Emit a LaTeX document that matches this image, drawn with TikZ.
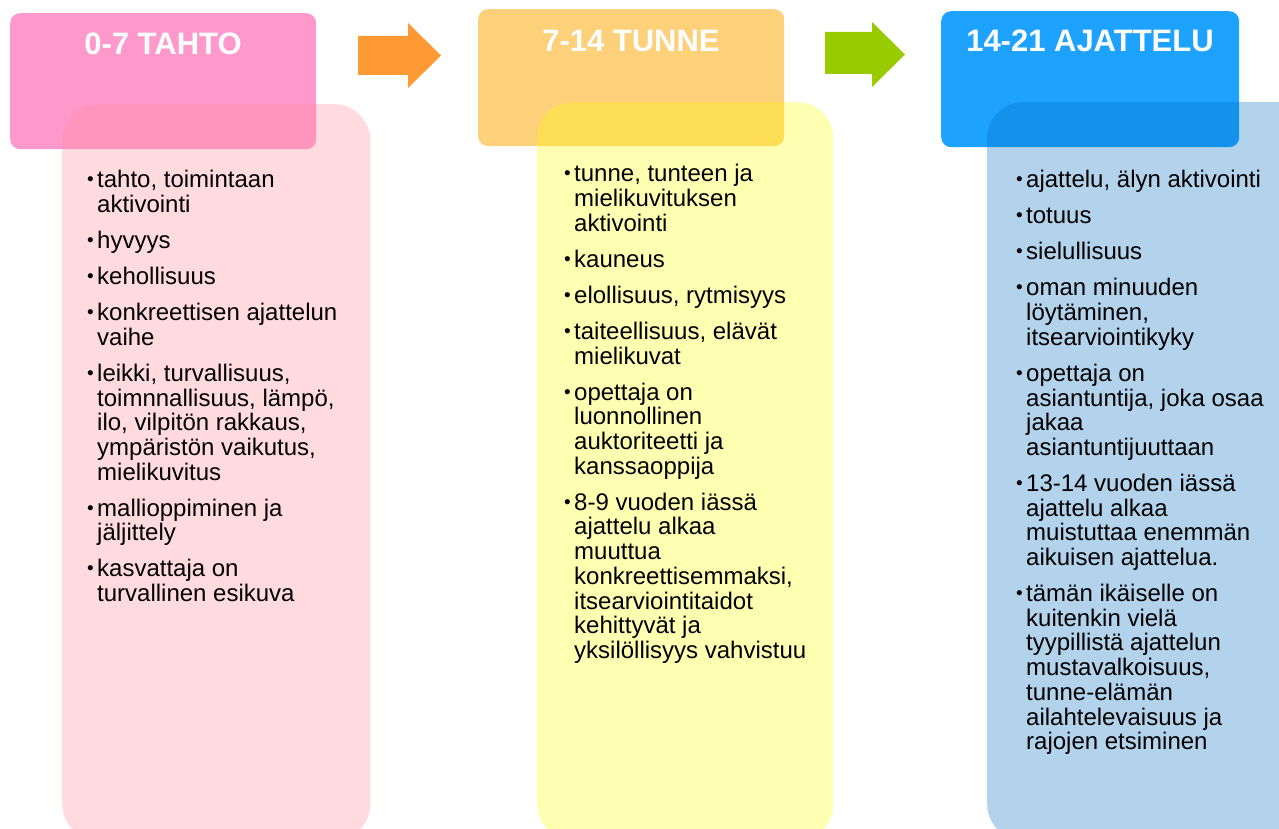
\documentclass[tikz,border=0pt]{standalone}
\usepackage{fontspec}
\setmainfont{Liberation Sans}
\definecolor{hdrA}{HTML}{FF99CC}
\definecolor{hdrB}{HTML}{FDD07A}
\definecolor{hdrC}{HTML}{1EA2FF}
\definecolor{bodA}{HTML}{FF8A98}
\definecolor{bodB}{HTML}{FFFF00}
\definecolor{bodC}{HTML}{0070C0}
\definecolor{arrA}{HTML}{FF9933}
\definecolor{arrB}{HTML}{99CC00}
\newcommand\bitem[1]{\par\noindent\llap{\raisebox{2pt}{\fontsize{19}{19}\selectfont •}\hspace{3.5pt}}#1}
\newcommand\coltext[1]{\begin{minipage}[t]{290pt}\fontsize{24}{24.7}\selectfont\setlength\parskip{11.3pt}#1\end{minipage}}
\tikzset{
  hdrbox/.style={rounded corners=10pt, inner sep=0pt, anchor=north west, draw=none},
  bodbox/.style={rounded corners=36pt, inner sep=0pt, anchor=north west, draw=none, fill opacity=0.3},
  ttl/.style={anchor=base, inner sep=0pt, text=white, font=\fontsize{31}{31}\selectfont\bfseries},
  coltxt/.style={anchor=base west, inner sep=0pt, text=black},
  blockarrow/.style={draw=none}
}
\begin{document}
\begin{tikzpicture}[x=1pt,y=-1pt]
\useasboundingbox (0,0) rectangle (1279,829);
\clip (0,0) rectangle (1279,829);
\fill[white] (0,0) rectangle (1279,829);
% headers
\node[hdrbox, fill=hdrA, minimum width=306pt, minimum height=136pt] (h1) at (10,13) {};
\node[hdrbox, fill=hdrB, minimum width=306pt, minimum height=137pt] (h2) at (478,9) {};
\node[hdrbox, fill=hdrC, minimum width=298pt, minimum height=136pt] (h3) at (941,11) {};
% bodies
\node[bodbox, fill=bodA, minimum width=308pt, minimum height=736pt] (b1) at (62,104) {};
\node[bodbox, fill=bodB, minimum width=296pt, minimum height=738pt] (b2) at (537,102) {};
\node[bodbox, fill=bodC, minimum width=330pt, minimum height=738pt] (b3) at (987,102) {};
% titles
\node[ttl] (t1) at (163,55) {0-7 TAHTO};
\node[ttl] (t2) at (631,52) {7-14 TUNNE};
\node[ttl] (t3) at (1090,52) {14-21 AJATTELU};
% arrows
\fill[arrA] (358,36) -- (408,36) -- (408,23) -- (441,55.5) -- (408,88) -- (408,75) -- (358,75) -- cycle;
\fill[arrB] (825,32) -- (872,32) -- (872,22) -- (905,54.5) -- (872,87) -- (872,74) -- (825,74) -- cycle;
% texts
\node[coltxt] (c1) at (97,188) {\coltext{%
\bitem{tahto, toimintaan\newline aktivointi}
\bitem{hyvyys}
\bitem{kehollisuus}
\bitem{konkreettisen ajattelun\newline vaihe}
\bitem{leikki, turvallisuus,\newline toimnnallisuus, lämpö,\newline ilo, vilpitön rakkaus,\newline ympäristön vaikutus,\newline mielikuvitus}
\bitem{mallioppiminen ja\newline jäljittely}
\bitem{kasvattaja on\newline turvallinen esikuva}}};
\node[coltxt] (c2) at (574,182) {\coltext{%
\bitem{tunne, tunteen ja\newline mielikuvituksen\newline aktivointi}
\bitem{kauneus}
\bitem{elollisuus, rytmisyys}
\bitem{taiteellisuus, elävät\newline mielikuvat}
\bitem{opettaja on\newline luonnollinen\newline auktoriteetti ja\newline kanssaoppija}
\bitem{8-9 vuoden iässä\newline ajattelu alkaa\newline muuttua\newline konkreettisemmaksi,\newline itsearviointitaidot\newline kehittyvät ja\newline yksilöllisyys vahvistuu}}};
\node[coltxt] (c3) at (1026,188) {\coltext{%
\bitem{ajattelu, älyn aktivointi}
\bitem{totuus}
\bitem{sielullisuus}
\bitem{oman minuuden\newline löytäminen,\newline itsearviointikyky}
\bitem{opettaja on\newline asiantuntija, joka osaa\newline jakaa\newline asiantuntijuuttaan}
\bitem{13-14 vuoden iässä\newline ajattelu alkaa\newline muistuttaa enemmän\newline aikuisen ajattelua.}
\bitem{tämän ikäiselle on\newline kuitenkin vielä\newline tyypillistä ajattelun\newline mustavalkoisuus,\newline tunne-elämän\newline ailahtelevaisuus ja\newline rajojen etsiminen}}};
\end{tikzpicture}
\end{document}
